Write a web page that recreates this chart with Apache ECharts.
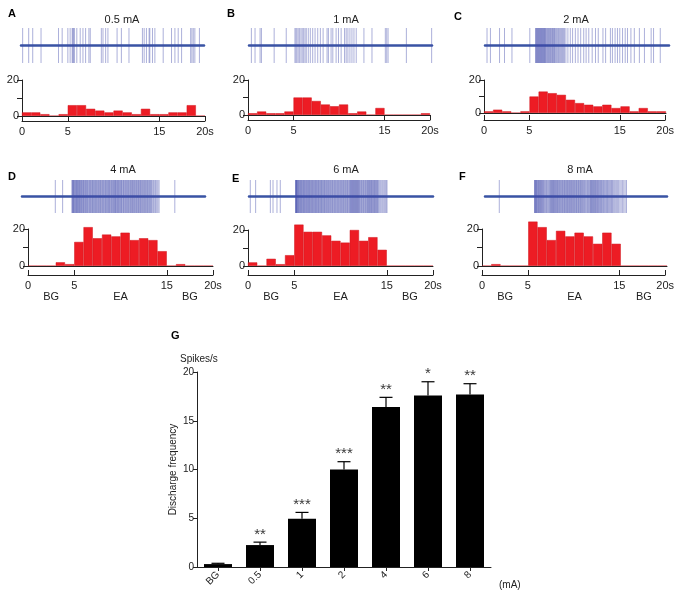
<!DOCTYPE html>
<html>
<head>
<meta charset="utf-8">
<script src="https://cdn.jsdelivr.net/npm/echarts/dist/echarts.min.js"></script>
<style>
html,body{margin:0;padding:0;background:#fff;}
#chart{width:677px;height:591px;}
</style>
</head>
<body>
<div id="chart"></div>
<script>
// ---------------- DATA ----------------
const panelLetters = ['A', 'B', 'C', 'D', 'E', 'F'];
const currents = ['0.5 mA', '1 mA', '2 mA', '4 mA', '6 mA', '8 mA'];
const binLabels = ['0','1','2','3','4','5','6','7','8','9','10','11','12','13','14','15','16','17','18','19'];
const timeRange = [0, 20];
const timeTicks = [0, 5, 15, 20];
const phaseLabels = ['BG', 'EA', 'BG'];
const phaseTimes = [2.5, 10, 17.5];

const histA = [2,2,1,0,1,6,6,4,3,2,3,2,1,4,1,1,2,2,6,0];
const histB = [1,2,1,1,2,10,10,8,6,5,6,1,2,0,4,0,0,0,0,1];
const histC = [1,2,1,0,1,10,13,12,11,8,6,5,4,5,3,4,1,3,1,1];
const histD = [0,0,0,2,1,13,21,15,17,16,18,14,15,14,8,0,1,0,0,0];
const histE = [2,0,4,1,6,23,19,19,17,14,13,20,14,16,9,0,0,0,0,0];
const histF = [0,1,0,0,0,24,21,14,19,16,18,16,12,18,12,0,0,0,0,0];

const spikesA = [0.18,0.84,1.28,2.19,4.1,4.5,5.12,5.37,5.59,5.66,5.74,5.85,6.1,6.47,6.77,7.06,7.42,7.57,8.78,8.96,9.25,9.5,10.5,10.97,11.8,13.27,13.46,13.71,14.0,14.08,14.37,14.63,15.54,16.45,16.82,17.18,17.55,18.54,18.68,18.83,19.0,19.5];
const spikesB = [0.26,0.66,1.21,1.36,2.75,4.07,5.02,5.13,5.24,5.38,5.53,5.68,5.82,5.97,6.12,6.26,6.48,6.7,6.96,7.22,7.51,7.8,8.1,8.53,8.68,8.97,9.16,9.52,9.78,10.07,10.44,10.62,10.81,11.03,11.25,11.47,11.72,12.56,13.44,14.9,15.05,15.2,17.2,19.96];
const spikesC = [0.22,0.59,1.58,2.12,2.93,4.87,5.49,5.55,5.6,5.66,5.71,5.77,5.82,5.88,5.93,5.99,6.04,6.1,6.15,6.21,6.26,6.32,6.37,6.43,6.48,6.53,6.59,6.66,6.74,6.81,6.89,6.96,7.03,7.11,7.18,7.26,7.33,7.4,7.47,7.55,7.62,7.71,7.8,7.9,7.99,8.1,8.21,8.32,8.42,8.53,8.64,8.79,9.01,9.27,9.52,9.82,10.11,10.4,10.73,10.99,11.28,11.65,12.01,12.31,12.82,13.11,13.63,13.85,14.14,14.4,14.65,14.95,15.24,15.49,15.86,16.23,16.78,17.33,18.06,18.32,19.05];
const spikesD = [3.64,4.44,5.46,5.50,5.55,5.61,5.64,5.70,5.77,5.81,5.88,5.93,5.99,6.02,6.09,6.14,6.20,6.27,6.31,6.38,6.45,6.49,6.56,6.63,6.70,6.74,6.82,6.90,6.95,7.03,7.10,7.14,7.22,7.31,7.36,7.44,7.50,7.58,7.66,7.71,7.79,7.85,7.93,8.01,8.06,8.15,8.21,8.28,8.37,8.42,8.50,8.57,8.63,8.72,8.78,8.85,8.93,8.98,9.07,9.13,9.21,9.27,9.35,9.43,9.48,9.56,9.62,9.70,9.77,9.83,9.91,9.97,10.04,10.09,10.16,10.22,10.27,10.35,10.41,10.46,10.55,10.60,10.68,10.74,10.81,10.88,10.93,11.02,11.09,11.15,11.24,11.29,11.37,11.45,11.50,11.58,11.66,11.71,11.80,11.86,11.95,12.01,12.08,12.15,12.21,12.30,12.36,12.43,12.52,12.57,12.65,12.73,12.79,12.87,12.94,13.00,13.09,13.14,13.22,13.31,13.36,13.44,13.52,13.58,13.67,13.73,13.81,13.90,13.96,14.05,14.13,14.20,14.31,14.40,14.52,14.61,14.73,14.85,14.98,16.7];
const spikesE = [0.14,0.72,2.32,2.61,3.04,3.4,5.07,5.09,5.11,5.14,5.17,5.21,5.26,5.30,5.36,5.41,5.45,5.52,5.57,5.63,5.68,5.74,5.79,5.86,5.92,5.97,6.04,6.09,6.16,6.22,6.27,6.35,6.40,6.47,6.53,6.58,6.66,6.72,6.78,6.85,6.90,6.98,7.04,7.10,7.17,7.23,7.30,7.35,7.43,7.49,7.56,7.61,7.69,7.75,7.82,7.88,7.95,8.02,8.08,8.16,8.21,8.29,8.36,8.42,8.51,8.57,8.64,8.72,8.79,8.85,8.94,9.01,9.08,9.15,9.23,9.30,9.38,9.44,9.53,9.60,9.67,9.74,9.82,9.90,9.96,10.05,10.12,10.19,10.27,10.34,10.42,10.48,10.57,10.64,10.71,10.78,10.86,10.93,11.01,11.06,11.11,11.17,11.22,11.28,11.33,11.39,11.44,11.50,11.55,11.61,11.66,11.72,11.77,11.83,11.88,11.94,12.00,12.07,12.15,12.22,12.29,12.37,12.44,12.51,12.59,12.66,12.74,12.81,12.88,12.95,13.01,13.07,13.13,13.19,13.26,13.32,13.38,13.45,13.51,13.58,13.64,13.71,13.77,13.84,13.90,13.97,14.04,14.12,14.23,14.34,14.46,14.57,14.69,14.80,14.91,15.00];
const spikesF = [1.57,5.45,5.48,5.51,5.56,5.62,5.66,5.71,5.78,5.84,5.89,5.95,6.01,6.07,6.12,6.19,6.25,6.30,6.37,6.44,6.51,6.59,6.67,6.76,6.84,6.93,7.01,7.10,7.17,7.23,7.29,7.35,7.41,7.47,7.53,7.59,7.65,7.72,7.78,7.84,7.91,7.97,8.04,8.11,8.17,8.24,8.31,8.39,8.46,8.52,8.60,8.67,8.74,8.80,8.87,8.95,9.02,9.08,9.15,9.22,9.29,9.37,9.43,9.50,9.57,9.64,9.71,9.78,9.85,9.92,10.00,10.06,10.13,10.21,10.28,10.34,10.42,10.49,10.56,10.63,10.70,10.78,10.85,10.93,11.02,11.10,11.19,11.27,11.36,11.44,11.52,11.59,11.65,11.71,11.77,11.83,11.90,11.96,12.02,12.09,12.15,12.22,12.29,12.35,12.42,12.49,12.56,12.64,12.71,12.79,12.86,12.94,13.03,13.11,13.20,13.29,13.37,13.46,13.55,13.64,13.73,13.82,13.91,14.00,14.09,14.20,14.31,14.43,14.55,14.68,14.82,14.96,15.10,15.25,15.40,15.55];

const gCategories = ['BG', '0.5', '1', '2', '4', '6', '8'];
const gMeans = [0.3, 2.25, 4.95, 10.0, 16.4, 17.6, 17.7];
const gErrTop = [0.38, 2.55, 5.6, 10.8, 17.4, 19.0, 18.8];
const gStars = ['', '**', '***', '***', '**', '*', '**'];
const gYTicks = [0, 20, 5];

const hists = [histA, histB, histC, histD, histE, histF];
const spikes = [spikesA, spikesB, spikesC, spikesD, spikesE, spikesF];

// ---------------- LAYOUT ----------------
const FONT = 'Liberation Sans, Arial, sans-serif';
const layout = [
  { raster:{left:21, width:183, top:28, height:35}, hist:{left:22, width:183, top:80, height:36}, timeY:121, letter:[3,3], titleX:117, titleY:9, phase:false },
  { raster:{left:249, width:183, top:28, height:35}, hist:{left:248, width:182, top:80, height:35}, timeY:120, letter:[222,3], titleX:341, titleY:9, phase:false },
  { raster:{left:485, width:184, top:28, height:35}, hist:{left:484, width:182, top:80, height:33}, timeY:120, letter:[449,6], titleX:571, titleY:9, phase:false },
  { raster:{left:22, width:183, top:180, height:33}, hist:{left:28, width:185, top:229, height:37}, timeY:275, letter:[3,166], titleX:118, titleY:159, phase:true },
  { raster:{left:249, width:184, top:180, height:33}, hist:{left:248, width:185, top:230, height:36}, timeY:275, letter:[227,168], titleX:341, titleY:159, phase:true },
  { raster:{left:485, width:182, top:180, height:33}, hist:{left:482, width:185, top:229, height:37}, timeY:275, letter:[454,166], titleX:575, titleY:159, phase:true }
];

const grids = [], xAxes = [], yAxes = [], series = [], titles = [];
function addGrid(g) { grids.push(Object.assign({containLabel:false}, g)); return grids.length - 1; }
const hiddenY = (gi, min, max) => ({ gridIndex:gi, type:'value', min:min, max:max, show:false });

layout.forEach((L, p) => {
  titles.push({ text: panelLetters[p], left: L.letter[0], top: L.letter[1], textStyle:{ fontFamily:FONT, fontSize:11, fontWeight:'bold', color:'#000' } });
  titles.push({ text: currents[p], left: L.titleX, top: L.titleY, textAlign:'center', textStyle:{ fontFamily:FONT, fontSize:11, fontWeight:'normal', color:'#222' } });

  // raster
  const r = addGrid(L.raster);
  xAxes.push({ gridIndex:r, type:'value', min:timeRange[0], max:timeRange[1],
    axisLine:{ show:true, onZero:true, lineStyle:{ color:'#3953a4', width:2.5 } },
    axisTick:{show:false}, axisLabel:{show:false}, splitLine:{show:false} });
  yAxes.push(hiddenY(r, -1, 1));
  series.push({ type:'scatter', xAxisIndex:r, yAxisIndex:r, symbol:'rect', symbolSize:[1, L.raster.height],
    itemStyle:{ color:'rgba(65,75,170,0.55)' }, data: spikes[p].map(t => [t, 0]), silent:true, z:1 });

  // histogram
  const h = addGrid(L.hist);
  xAxes.push({ gridIndex:h, type:'category', data:binLabels, boundaryGap:true,
    axisLine:{ show:true, lineStyle:{ color:'#222', width:1 } }, axisTick:{show:false}, axisLabel:{show:false}, splitLine:{show:false}, z:5 });
  yAxes.push({ gridIndex:h, type:'value', min:0, max:20, interval:10,
    axisLine:{ show:true, lineStyle:{ color:'#222', width:1 } },
    axisTick:{ show:true, length:5, lineStyle:{ color:'#222' } },
    axisLabel:{ fontFamily:FONT, fontSize:11, color:'#222', margin:3, formatter: v => (v === 10 ? '' : String(v)) },
    splitLine:{show:false} });
  series.push({ type:'bar', xAxisIndex:h, yAxisIndex:h, data:hists[p], barCategoryGap:'0%', clip:false,
    itemStyle:{ color:'#ed1c24', borderColor:'#d0141c', borderWidth:0.5 }, silent:true });

  // time scale
  const t = addGrid({ left:L.hist.left, width:L.hist.width, top:L.timeY - 6, height:6 });
  xAxes.push({ gridIndex:t, type:'value', min:timeRange[0], max:timeRange[1],
    axisLine:{ show:true, onZero:false, lineStyle:{ color:'#222', width:1 } },
    axisTick:{ show:true, inside:true, length:5, customValues:timeTicks, lineStyle:{ color:'#222' } },
    axisLabel:{ show:true, customValues:timeTicks, margin:5, fontFamily:FONT, fontSize:11, color:'#222',
      formatter: v => (v === timeRange[1] ? v + 's' : String(v)) },
    splitLine:{show:false} });
  yAxes.push(hiddenY(t, 0, 1));

  if (L.phase) {
    const ph = addGrid({ left:L.hist.left, width:L.hist.width, top:L.timeY - 6, height:6 });
    xAxes.push({ gridIndex:ph, type:'value', min:timeRange[0], max:timeRange[1],
      axisLine:{show:false}, axisTick:{show:false}, splitLine:{show:false},
      axisLabel:{ show:true, customValues:phaseTimes, margin:16, fontFamily:FONT, fontSize:11, color:'#222',
        formatter: v => phaseLabels[phaseTimes.indexOf(v)] } });
    yAxes.push(hiddenY(ph, 0, 1));
  }
});

// ---------------- PANEL G ----------------
titles.push({ text:'G', left:166, top:325, textStyle:{ fontFamily:FONT, fontSize:11, fontWeight:'bold', color:'#000' } });
titles.push({ text:'Spikes/s', left:175, top:349, textStyle:{ fontFamily:FONT, fontSize:10, fontWeight:'normal', color:'#222' } });
titles.push({ text:'(mA)', left:494, top:575, textStyle:{ fontFamily:FONT, fontSize:10, fontWeight:'normal', color:'#222' } });

const g = addGrid({ left:197, top:372, width:294, height:195 });
xAxes.push({ gridIndex:g, type:'category', data:gCategories,
  axisLine:{ show:true, lineStyle:{ color:'#222', width:1 } },
  axisTick:{ show:true, alignWithLabel:true, length:4, lineStyle:{ color:'#222' } },
  axisLabel:{ rotate:45, fontFamily:FONT, fontSize:10, color:'#222', margin:6 },
  splitLine:{show:false} });
yAxes.push({ gridIndex:g, type:'value', min:gYTicks[0], max:gYTicks[1], interval:gYTicks[2],
  name:'Discharge frequency', nameLocation:'middle', nameRotate:90, nameGap:19,
  nameTextStyle:{ fontFamily:FONT, fontSize:10, color:'#222' },
  axisLine:{ show:true, lineStyle:{ color:'#222', width:1 } },
  axisTick:{ show:true, length:4, lineStyle:{ color:'#222' } },
  axisLabel:{ fontFamily:FONT, fontSize:10, color:'#222', margin:3 },
  splitLine:{show:false} });
series.push({ type:'bar', xAxisIndex:g, yAxisIndex:g, data:gMeans, barWidth:28,
  itemStyle:{ color:'#000' }, silent:true, z:2 });
series.push({ type:'custom', xAxisIndex:g, yAxisIndex:g, silent:true, z:3,
  data: gCategories.map((c, i) => [i, gMeans[i], gErrTop[i]]),
  renderItem: function (params, api) {
    const x = api.value(0);
    const b = api.coord([x, api.value(1)]);
    const tp = api.coord([x, api.value(2)]);
    return { type:'group', children:[
      { type:'line', shape:{ x1:b[0], y1:b[1], x2:tp[0], y2:tp[1] }, style:{ stroke:'#000', lineWidth:1.2 } },
      { type:'line', shape:{ x1:tp[0]-6.5, y1:tp[1], x2:tp[0]+6.5, y2:tp[1] }, style:{ stroke:'#000', lineWidth:1.2 } }
    ]};
  } });
series.push({ type:'scatter', xAxisIndex:g, yAxisIndex:g, symbolSize:0, silent:true, z:4,
  data: gCategories.map((c, i) => [i, gErrTop[i]]),
  label:{ show:true, position:'top', distance:0, fontFamily:FONT, fontSize:15, color:'#000',
    formatter: p => gStars[p.dataIndex] } });

const chart = echarts.init(document.getElementById('chart'), null, { renderer:'canvas' });
chart.setOption({
  animation:false,
  backgroundColor:'#fff',
  title:titles,
  grid:grids,
  xAxis:xAxes,
  yAxis:yAxes,
  series:series
});
</script>
</body>
</html>
